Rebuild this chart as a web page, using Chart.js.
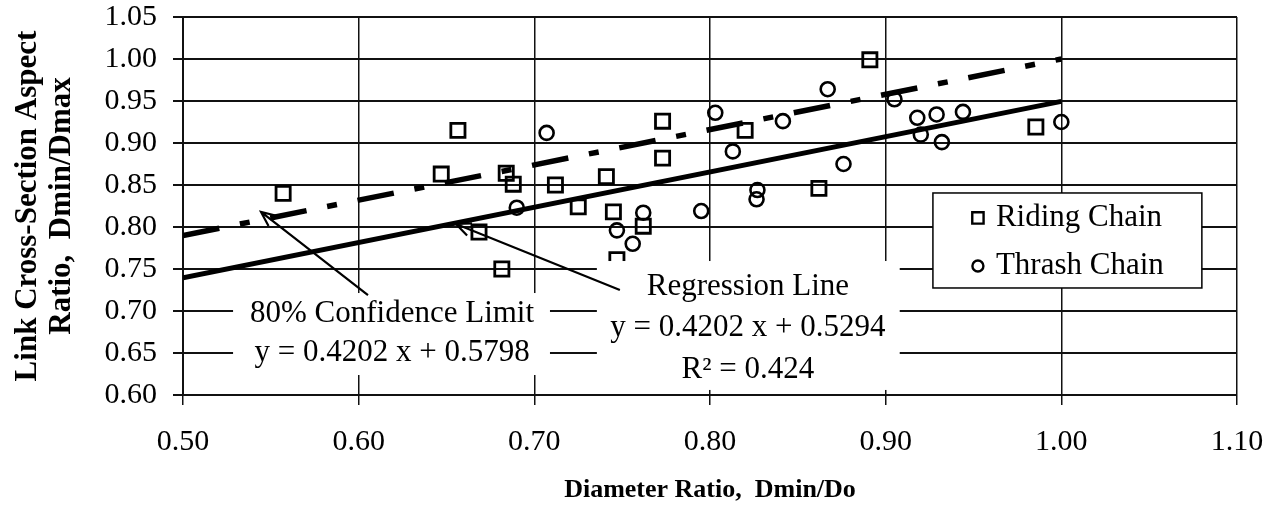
<!DOCTYPE html>
<html>
<head>
<meta charset="utf-8">
<script src="https://cdn.jsdelivr.net/npm/chart.js@4.4.1/dist/chart.umd.min.js"></script>
<style>
  html, body { margin: 0; padding: 0; background: #fff; }
  #wrap { position: relative; width: 1282px; height: 506px; }
</style>
</head>
<body>
<div id="wrap"><canvas id="chainChart"></canvas></div>
<script>
// ============================================
// DATA
// ============================================

const xTicks      = [0.50, 0.60, 0.70, 0.80, 0.90, 1.00, 1.10];
const xTickLabels = ['0.50', '0.60', '0.70', '0.80', '0.90', '1.00', '1.10'];
const yTicks      = [0.60, 0.65, 0.70, 0.75, 0.80, 0.85, 0.90, 0.95, 1.00, 1.05];
const yTickLabels = ['0.60', '0.65', '0.70', '0.75', '0.80', '0.85', '0.90', '0.95', '1.00', '1.05'];

// Riding chain (squares)
const ridingX = [0.557, 0.647, 0.6565, 0.6685, 0.6815, 0.684, 0.688, 0.712, 0.725, 0.741,
                 0.745, 0.747, 0.762, 0.773, 0.773, 0.820, 0.862, 0.891, 0.9855];
const ridingY = [0.840, 0.863, 0.915, 0.794, 0.750, 0.864, 0.851, 0.850, 0.824, 0.860,
                 0.818, 0.761, 0.801, 0.926, 0.882, 0.915, 0.846, 0.999, 0.919];

// Thrash chain (circles)
const thrashX = [0.690, 0.707, 0.747, 0.756, 0.762, 0.795, 0.803, 0.813, 0.827, 0.8265,
                 0.8415, 0.867, 0.876, 0.905, 0.918, 0.920, 0.929, 0.932, 0.944, 1.000];
const thrashY = [0.823, 0.912, 0.796, 0.780, 0.817, 0.819, 0.936, 0.890, 0.844, 0.833,
                 0.926, 0.964, 0.875, 0.952, 0.930, 0.910, 0.934, 0.901, 0.937, 0.925];

// Regression line and 80% confidence limit (end points)
const lineX = [0.50, 1.00];
const regY  = [0.7395, 0.9496];
const confY = [0.7899, 1.0000];

const toPoints = (xs, ys) => xs.map((v, i) => ({ x: v, y: ys[i] }));

// ============================================
// NOTES, ARROWS (data units)
// ============================================

const SERIF = '"Liberation Serif", "Times New Roman", Times, serif';

const notes = [
  { box: [0.5285, 0.7214, 0.7089, 0.6238],
    lines: [ { x: 0.619, y: 0.6964, text: '80% Confidence Limit' },
             { x: 0.619, y: 0.6500, text: 'y = 0.4202 x + 0.5798' } ],
    arrow: { from: [0.6053, 0.719], to: [0.5444, 0.8179] } },
  { box: [0.7356, 0.7595, 0.9080, 0.6060],
    lines: [ { x: 0.8216, y: 0.7286, text: 'Regression Line' },
             { x: 0.8216, y: 0.6798, text: 'y = 0.4202 x + 0.5294' },
             { x: 0.8216, y: 0.6298, text: 'R² = 0.424' } ],
    arrow: { from: [0.7487, 0.725], to: [0.6554, 0.8036] } },
];

const legendBox = [0.9269, 0.8405, 1.0800, 0.7274];

// ============================================
// PLUGIN: text boxes, arrows, legend
// ============================================

function drawArrow(ctx, x1, y1, x2, y2) {
  const ang = Math.atan2(y2 - y1, x2 - x1);
  const head = 16, spread = 0.42;
  ctx.beginPath();
  ctx.moveTo(x1, y1);
  ctx.lineTo(x2, y2);
  ctx.moveTo(x2 - head * Math.cos(ang - spread), y2 - head * Math.sin(ang - spread));
  ctx.lineTo(x2, y2);
  ctx.lineTo(x2 - head * Math.cos(ang + spread), y2 - head * Math.sin(ang + spread));
  ctx.stroke();
}

const overlayPlugin = {
  id: 'overlay',
  afterDatasetsDraw(chart) {
    const { ctx, scales: { x, y } } = chart;
    const px = v => x.getPixelForValue(v);
    const py = v => y.getPixelForValue(v);

    ctx.save();
    notes.forEach(n => {
      const [x0, y0, x1, y1] = n.box;
      ctx.fillStyle = '#fff';
      ctx.fillRect(px(x0), py(y0), px(x1) - px(x0), py(y1) - py(y0));

      ctx.fillStyle = '#000';
      ctx.font = `31px ${SERIF}`;
      ctx.textAlign = 'center';
      ctx.textBaseline = 'middle';
      n.lines.forEach(l => ctx.fillText(l.text, px(l.x), py(l.y)));

      ctx.strokeStyle = '#000';
      ctx.lineWidth = 2.2;
      drawArrow(ctx, px(n.arrow.from[0]), py(n.arrow.from[1]), px(n.arrow.to[0]), py(n.arrow.to[1]));
    });

    // legend
    const [lx0, ly0, lx1, ly1] = legendBox;
    const L = px(lx0), T = py(ly0), W = px(lx1) - L, H = py(ly1) - T;
    ctx.fillStyle = '#fff';
    ctx.fillRect(L, T, W, H);
    ctx.strokeStyle = '#000';
    ctx.lineWidth = 1.5;
    ctx.strokeRect(L, T, W, H);

    const items = [
      { ds: chart.data.datasets[0], style: 'rect',   r: 8 },
      { ds: chart.data.datasets[1], style: 'circle', r: 5.5 },
    ];
    ctx.font = `31px ${SERIF}`;
    ctx.textAlign = 'left';
    ctx.textBaseline = 'middle';
    items.forEach((it, i) => {
      const cy = T + 25 + i * 48;
      ctx.strokeStyle = '#000';
      ctx.fillStyle = 'rgba(0,0,0,0)';
      ctx.lineWidth = 2.4;
      Chart.helpers.drawPoint(ctx, { pointStyle: it.style, radius: it.r, borderWidth: 2.4 }, L + 45, cy);
      ctx.fillStyle = '#000';
      ctx.fillText(it.ds.label, L + 63, cy);
    });
    ctx.restore();
  }
};

// ============================================
// CHART
// ============================================

const canvas = document.getElementById('chainChart');

new Chart(canvas.getContext('2d'), {
  type: 'scatter',
  data: {
    datasets: [
      {
        label: 'Riding Chain',
        data: toPoints(ridingX, ridingY),
        pointStyle: 'rect',
        pointRadius: 10,
        borderColor: '#000',
        backgroundColor: 'rgba(0,0,0,0)',
        borderWidth: 2.8,
      },
      {
        label: 'Thrash Chain',
        data: toPoints(thrashX, thrashY),
        pointStyle: 'circle',
        pointRadius: 7,
        borderColor: '#000',
        backgroundColor: 'rgba(0,0,0,0)',
        borderWidth: 2.6,
      },
      {
        label: 'Regression Line',
        type: 'line',
        data: toPoints(lineX, regY),
        borderColor: '#000',
        borderWidth: 5,
        pointRadius: 0,
        fill: false,
      },
      {
        label: '80% Confidence Limit',
        type: 'line',
        data: toPoints(lineX, confY),
        borderColor: '#000',
        borderWidth: 5.5,
        borderDash: [37, 21, 10, 21],
        borderCapStyle: 'butt',
        pointRadius: 0,
        fill: false,
      },
    ],
  },
  options: {
    responsive: true,
    maintainAspectRatio: false,
    animation: false,
    events: [],
    layout: { padding: { top: 17, right: 45, left: 0, bottom: 0 } },
    plugins: {
      legend:  { display: false },
      tooltip: { enabled: false },
    },
    scales: {
      x: {
        type: 'linear',
        min: 0.5,
        max: 1.1,
        afterFit: s => { s.height = 111; s.paddingLeft = 0; s.paddingRight = 0; },
        afterBuildTicks: s => { s.ticks = xTicks.map(v => ({ value: v })); },
        grid:   { color: '#111', lineWidth: 1.5, tickLength: 10 },
        border: { color: '#111', width: 2 },
        ticks: {
          color: '#000',
          padding: 19,
          maxRotation: 0,
          font: { size: 30, family: SERIF },
          callback: (v, i) => xTickLabels[i],
        },
        title: {
          display: true,
          text: 'Diameter Ratio,  Dmin/Do',
          color: '#000',
          font: { size: 26, weight: 'bold', family: SERIF, lineHeight: 1.2 },
          padding: { top: 0, bottom: 0 },
        },
      },
      y: {
        type: 'linear',
        min: 0.6,
        max: 1.05,
        afterFit: s => { s.width = 183; s.paddingTop = 0; s.paddingBottom = 0; },
        afterBuildTicks: s => { s.ticks = yTicks.map(v => ({ value: v })); },
        grid:   { color: '#111', lineWidth: 2, tickLength: 10 },
        border: { color: '#111', width: 2 },
        ticks: {
          color: '#000',
          padding: 16,
          font: { size: 30, family: SERIF },
          callback: (v, i) => yTickLabels[i],
        },
        title: {
          display: true,
          text: ['Link Cross-Section Aspect', 'Ratio,  Dmin/Dmax'],
          color: '#000',
          font: { size: 31, weight: 'bold', family: SERIF, lineHeight: 1.1 },
          padding: { top: 11, bottom: 0 },
        },
      },
    },
  },
  plugins: [overlayPlugin],
});
</script>
</body>
</html>
